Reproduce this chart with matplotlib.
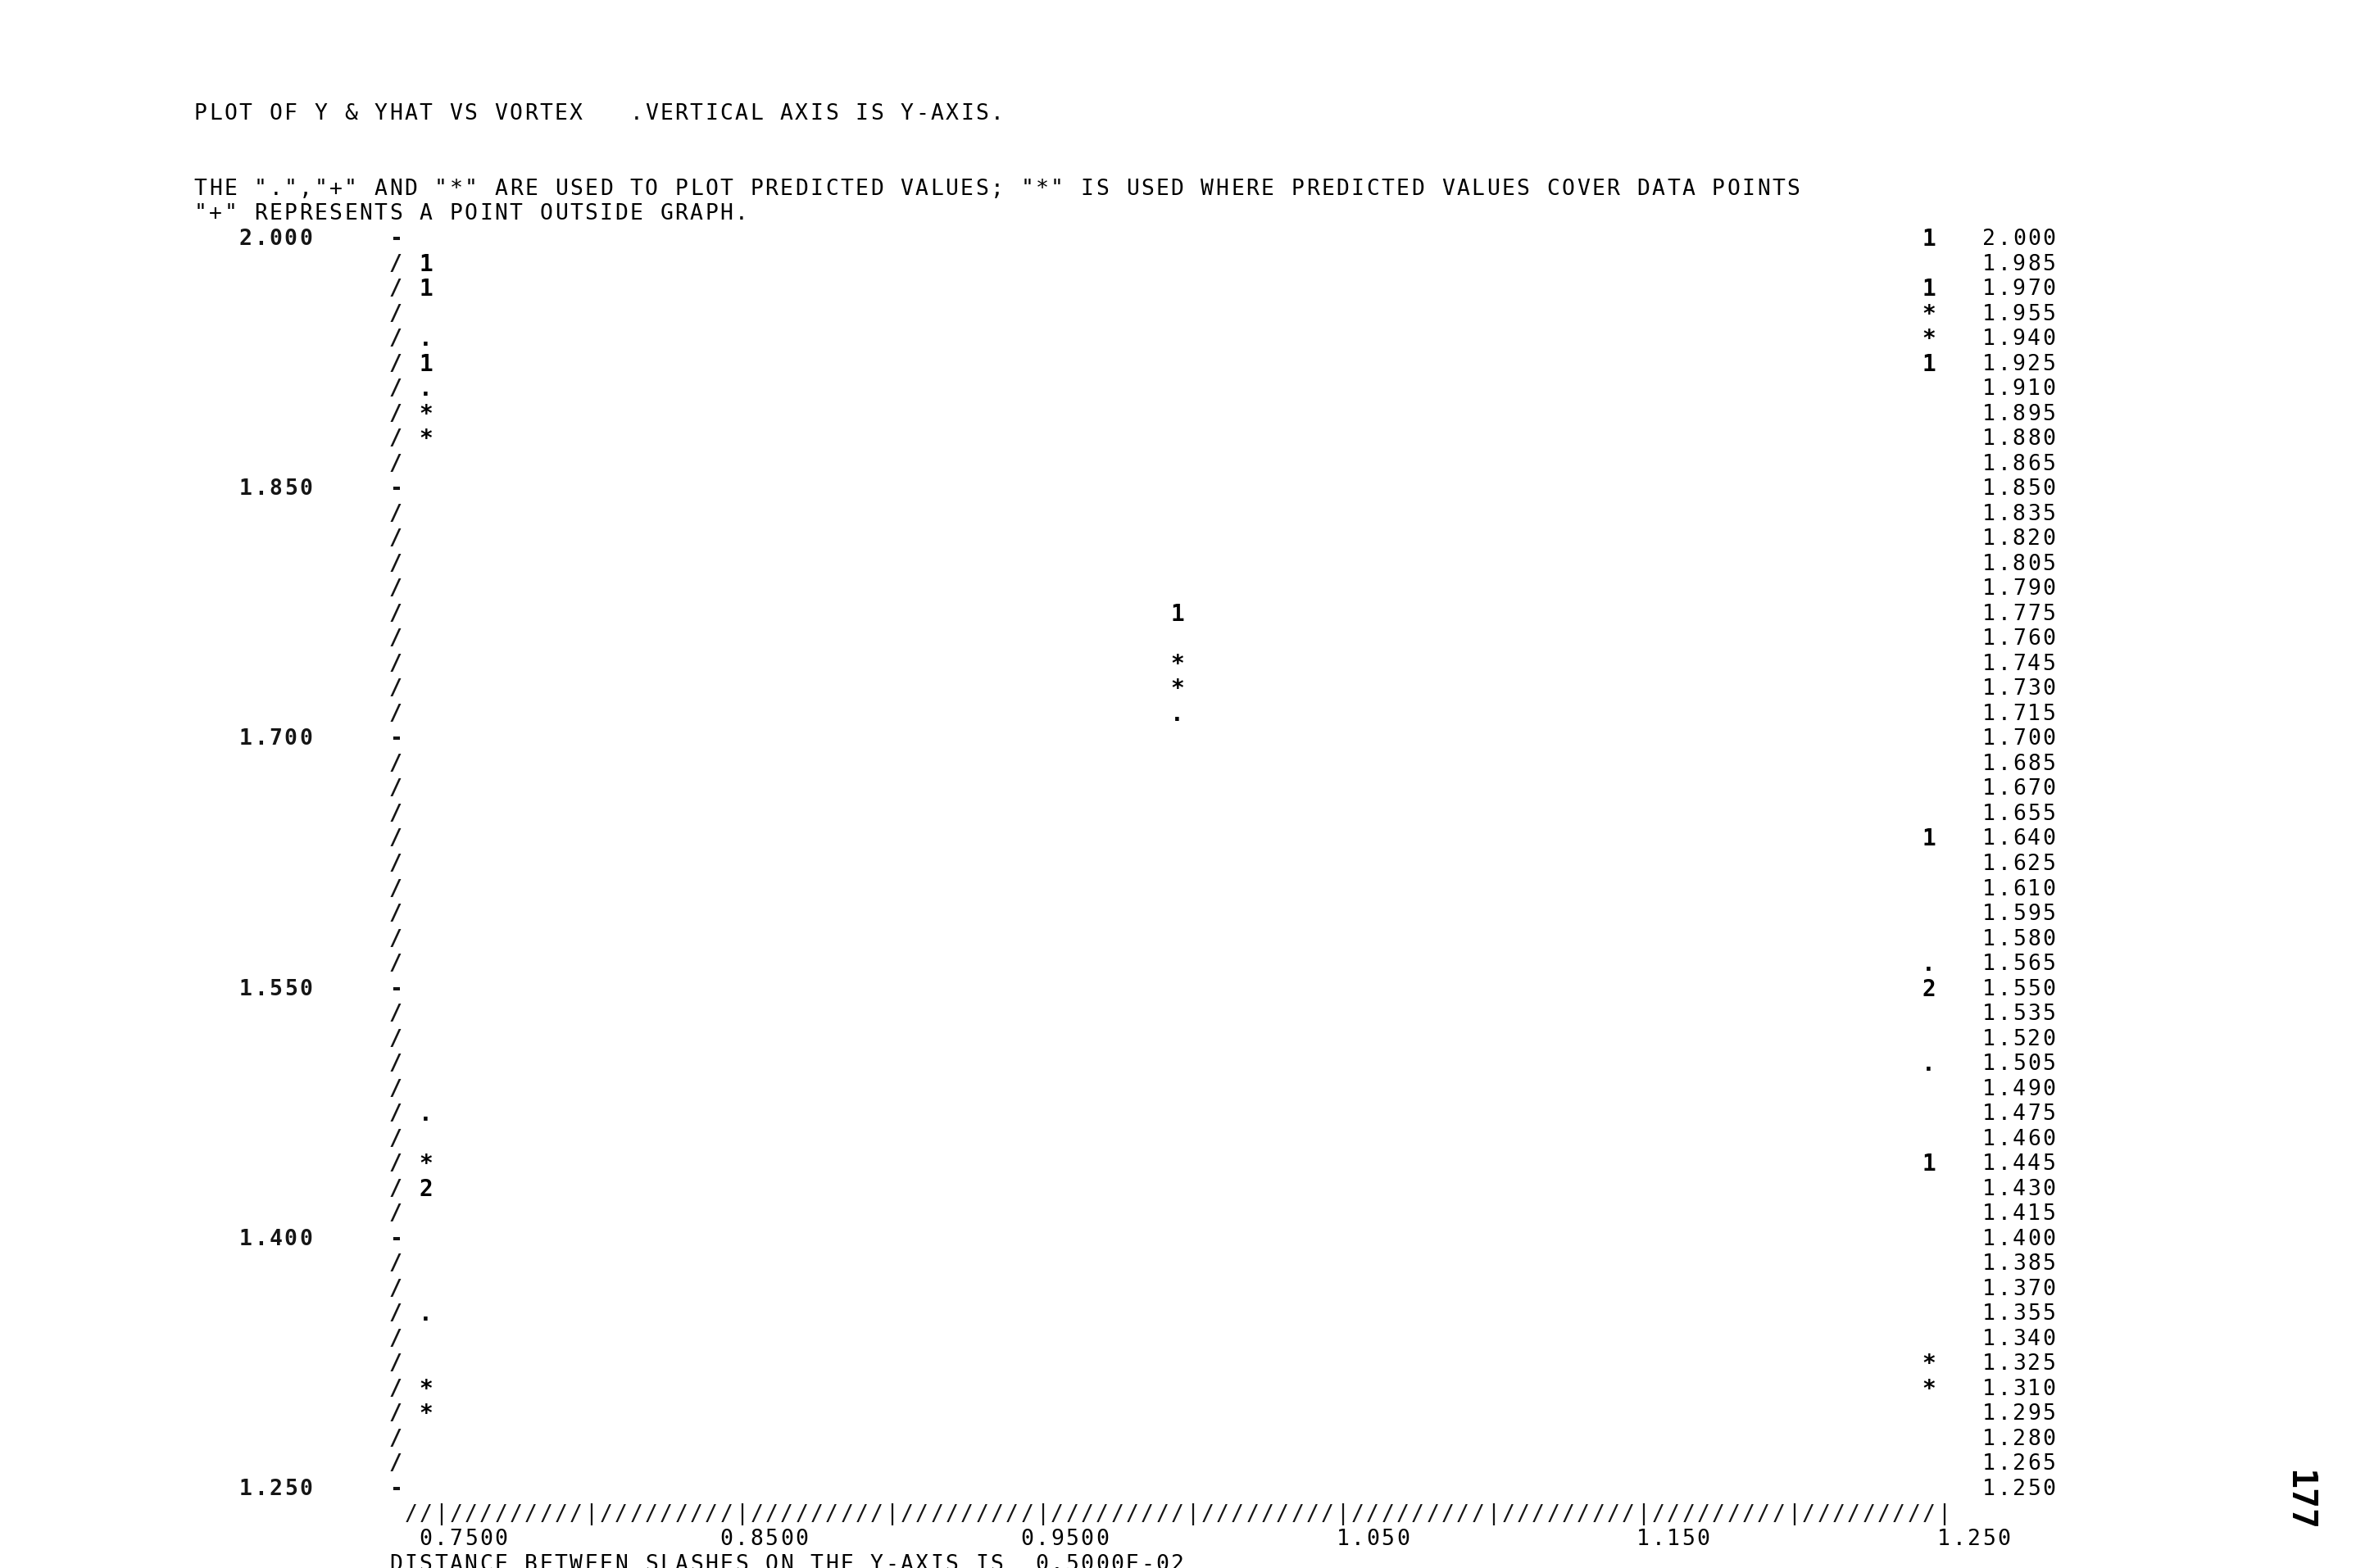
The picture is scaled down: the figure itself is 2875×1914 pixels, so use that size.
import matplotlib
matplotlib.use("Agg")
import matplotlib.pyplot as plt

# line printer grid: one column = 0.005 of VORTEX, one line = 0.015 of Y
X_STEP = 0.005
Y_STEP = 0.015

# plotted characters (x = VORTEX, y = Y)
left_x = 0.745
left_y = [1.985, 1.970, 1.940, 1.925, 1.910, 1.895, 1.880,
          1.475, 1.445, 1.430, 1.355, 1.310, 1.295]
left_sym = ['1', '1', '.', '1', '.', '*', '*', '.', '*', '2', '.', '*', '*']

mid_x = 0.995
mid_y = [1.775, 1.745, 1.730, 1.715]
mid_sym = ['1', '*', '*', '.']

right_x = 1.245
right_y = [2.000, 1.970, 1.955, 1.940, 1.925, 1.640, 1.565,
           1.550, 1.505, 1.445, 1.325, 1.310]
right_sym = ['1', '1', '*', '*', '1', '1', '.', '2', '.', '1', '*', '*']

# axis labels
left_labels = ['2.000', '1.850', '1.700', '1.550', '1.400', '1.250']
right_labels = ['2.000', '1.985', '1.970', '1.955', '1.940', '1.925', '1.910',
                '1.895', '1.880', '1.865', '1.850', '1.835', '1.820', '1.805',
                '1.790', '1.775', '1.760', '1.745', '1.730', '1.715', '1.700',
                '1.685', '1.670', '1.655', '1.640', '1.625', '1.610', '1.595',
                '1.580', '1.565', '1.550', '1.535', '1.520', '1.505', '1.490',
                '1.475', '1.460', '1.445', '1.430', '1.415', '1.400', '1.385',
                '1.370', '1.355', '1.340', '1.325', '1.310', '1.295', '1.280',
                '1.265', '1.250']
x_ticks = [0.75, 0.85, 0.95, 1.05, 1.15, 1.25]
x_labels = ['0.7500', '0.8500', '0.9500', '1.050', '1.150', '1.250']

TITLE = 'PLOT OF Y & YHAT VS VORTEX   .VERTICAL AXIS IS Y-AXIS.'
NOTE1 = ('THE ".","+" AND "*" ARE USED TO PLOT PREDICTED VALUES; '
         '"*" IS USED WHERE PREDICTED VALUES COVER DATA POINTS')
NOTE2 = '"+" REPRESENTS A POINT OUTSIDE GRAPH.'
FOOT = 'DISTANCE BETWEEN SLASHES ON THE Y-AXIS IS  0.5000E-02'

FONT = 'DejaVu Sans Mono'
FS = 19

fig = plt.figure(figsize=(28.75, 19.14), dpi=100)
ax = fig.add_axes([0, 0, 1, 1])
ax.set_xlim(0.603326, 1.387132)
ax.set_ylim(1.202818, 2.143512)
ax.axis('off')


def put(x, y, s, weight='bold', color='#151515', size=FS):
    # one character per printer column
    for i, ch in enumerate(s):
        if ch == ' ':
            continue
        ax.text(x + i * X_STEP, y, ch, ha='center', va='center',
                family=FONT, fontsize=size, fontweight=weight, color=color)


# header
put(0.75 - 16 * X_STEP, 2.0 + 5 * Y_STEP, TITLE, weight='normal', color='black')
put(0.75 - 16 * X_STEP, 2.0 + 2 * Y_STEP, NOTE1, weight='normal', color='black')
put(0.75 - 16 * X_STEP, 2.0 + 1 * Y_STEP, NOTE2, weight='normal', color='black')

# vertical axis, left labels and right-hand value column
axis_x = 0.75 - 3 * X_STEP
for i, lab in enumerate(right_labels):
    y = float(lab)
    put(axis_x, y, '-' if i % 10 == 0 else '/')
    put(1.25 + 3 * X_STEP, y, lab, weight='normal', color='#000000')
for lab in left_labels:
    put(0.75 - 9 * X_STEP - (len(lab) - 1) * X_STEP, float(lab), lab)

# horizontal axis
bottom = 1.25 - Y_STEP
put(0.75 - 2 * X_STEP, bottom, '//' + ('|' + '/' * 9) * 10 + '|', weight='normal')
for t, lab in zip(x_ticks, x_labels):
    put(t + 4 * X_STEP - (len(lab) - 1) * X_STEP, bottom - Y_STEP, lab,
        weight='normal', color='#000000')
put(0.75 - 3 * X_STEP, bottom - 2 * Y_STEP, FOOT, weight='normal', color='black')

# data characters
for cx, ys, syms in [(left_x, left_y, left_sym),
                     (mid_x, mid_y, mid_sym),
                     (right_x, right_y, right_sym)]:
    for y, s in zip(ys, syms):
        put(cx, y, s, color='black', size=FS + 1)

# page number
ax.text(1.368, 1.2435, '177', rotation=-90, ha='center', va='center',
        family=FONT, fontsize=30, fontweight='bold', color='black')

fig.savefig('out.png', dpi=100, facecolor='white')
